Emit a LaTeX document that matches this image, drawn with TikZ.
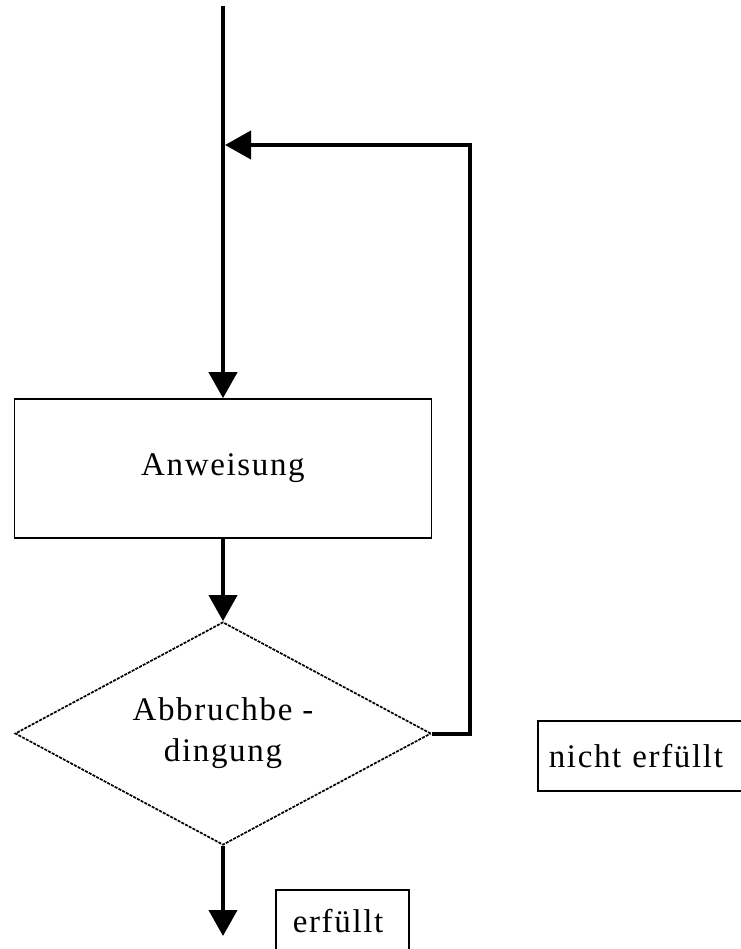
\documentclass[tikz,border=0pt]{standalone}
\usepackage{fontspec}
\setmainfont{Liberation Serif}[LetterSpace=5]
\usetikzlibrary{arrows.meta,shapes.geometric}
\begin{document}
\begin{tikzpicture}[x=1pt,y=-1pt,
  flow/.style={line width=4pt,-{Triangle[length=26pt,width=28pt]}},
  txt/.style={font=\fontsize{33}{41}\selectfont},
  stepbox/.style={draw,txt,line width=1.6pt,minimum width=417pt,minimum height=139pt},
  decision/.style={diamond,draw,txt,line width=1.7pt,dash pattern=on 3pt off 1.2pt,
    minimum width=416pt,minimum height=223pt,shape aspect=1.865,inner sep=0pt,align=center},
  tag/.style={draw,txt,line width=1.6pt,anchor=north west,inner ysep=0pt,align=left}
]
\useasboundingbox (0,0) rectangle (740,949);

% flowchart nodes
\node[stepbox] (anw) at (223,468.5) {Anweisung};
\node[decision] (cond) at (223,733.5) {Abbruchbe -\\dingung};

% outcome labels
\node[tag,inner xsep=11pt,text width=193pt,minimum height=70pt] (nope) at (537,720) {nicht erfüllt};
\node[tag,inner xsep=17pt,text width=99pt,minimum height=62pt] (done) at (275,889) {erfüllt};

% free ends of the connectors
\coordinate (start) at (223,6);
\coordinate (join) at (225,145);
\coordinate (exit) at (223,936);

% connectors
\draw[flow] (start) -- (anw);
\draw[flow] (anw) -- (cond);
\draw[flow] (cond.east) -- ++(38,0) |- (join);
\draw[flow] (cond) -- (exit);
\end{tikzpicture}
\end{document}
